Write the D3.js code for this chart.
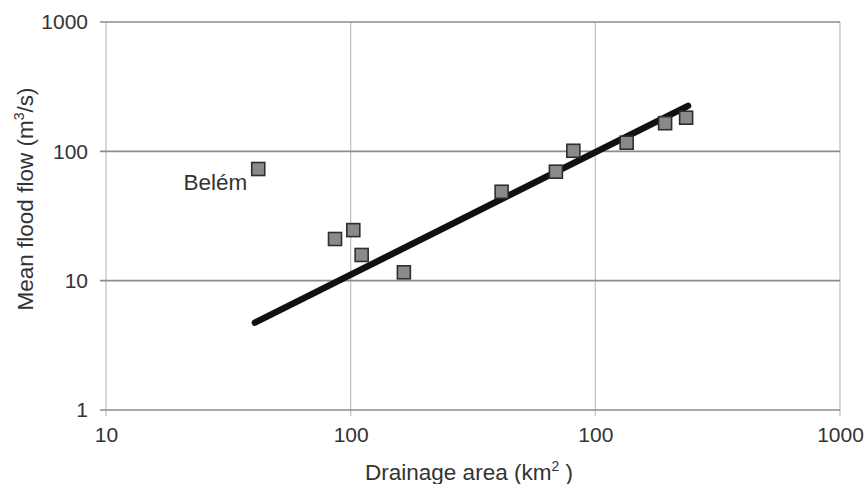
<!DOCTYPE html>
<html>
<head>
<meta charset="utf-8">
<script src="https://cdn.jsdelivr.net/npm/d3@7"></script>
<style>
  html, body { margin: 0; padding: 0; background: #fff; }
  svg { display: block; }
  text { font-family: "Liberation Sans", Arial, sans-serif; fill: #333; }
</style>
</head>
<body>
<svg id="chart" width="868" height="484"></svg>
<script>
// ---- data ----
const drainageArea = [41.9, 86.3, 102.5, 110.9, 165, 414, 690, 813, 1343, 1928, 2350];
const meanFloodFlow = [73.0, 21.0, 24.6, 15.8, 11.6, 48.7, 69.6, 101, 116.6, 165, 182];
const pointLabels = ["Belém", "", "", "", "", "", "", "", "", "", ""];
const trendArea = [40.6, 2393];
const trendFlow = [4.73, 225];
const xTickValues = [10, 100, 1000, 10000];
const xTickLabels = ["10", "100", "100", "1000"];
const yTickValues = [1, 10, 100, 1000];
const yTickLabels = ["1", "10", "100", "1000"];

const svg = d3.select("#chart");
const L = 106, R = 840, T = 22, B = 410;

const x = d3.scaleLog().domain([10, 10000]).range([L, R]);
const y = d3.scaleLog().domain([1, 1000]).range([B, T]);

// vertical gridlines (light)
svg.append("g").selectAll("line").data(xTickValues).join("line")
  .attr("x1", d => x(d)).attr("x2", d => x(d))
  .attr("y1", T).attr("y2", B + 6)
  .attr("stroke", "#c4c4c4").attr("stroke-width", 1.3);

// horizontal gridlines (darker)
svg.append("g").selectAll("line").data(yTickValues).join("line")
  .attr("x1", L - 6).attr("x2", R)
  .attr("y1", d => y(d)).attr("y2", d => y(d))
  .attr("stroke", "#8c8c8c").attr("stroke-width", 1.6);

// axes (labels only)
const xAxis = d3.axisBottom(x).tickValues(xTickValues)
  .tickFormat((d, i) => xTickLabels[i]).tickSize(0).tickPadding(17);
const gx = svg.append("g").attr("transform", `translate(0,${B})`).call(xAxis);
gx.select(".domain").remove();
gx.selectAll("text").attr("font-size", 21).attr("font-family", "Liberation Sans, Arial, sans-serif").attr("fill", "#333");

const yAxis = d3.axisLeft(y).tickValues(yTickValues)
  .tickFormat((d, i) => yTickLabels[i]).tickSize(0).tickPadding(18);
const gy = svg.append("g").attr("transform", `translate(${L},0)`).call(yAxis);
gy.select(".domain").remove();
gy.selectAll("text").attr("font-size", 21).attr("font-family", "Liberation Sans, Arial, sans-serif").attr("fill", "#333");

// trend line
const trend = trendArea.map((a, i) => [a, trendFlow[i]]);
svg.append("path")
  .datum(trend)
  .attr("d", d3.line().x(d => x(d[0])).y(d => y(d[1])))
  .attr("fill", "none").attr("stroke", "#111").attr("stroke-width", 6.5)
  .attr("stroke-linecap", "round");

// points
const pts = drainageArea.map((a, i) => ({ a, q: meanFloodFlow[i], label: pointLabels[i] }));
const s = 13;
svg.append("g").selectAll("rect").data(pts).join("rect")
  .attr("x", d => x(d.a) - s / 2).attr("y", d => y(d.q) - s / 2)
  .attr("width", s).attr("height", s)
  .attr("fill", "#8a8a8a").attr("stroke", "#2e2e2e").attr("stroke-width", 1.6);

// point labels
svg.append("g").selectAll("text").data(pts.filter(d => d.label)).join("text")
  .attr("x", d => x(d.a) - 11).attr("y", d => y(d.q) + 21)
  .attr("text-anchor", "end").attr("font-size", 22.5)
  .text(d => d.label);

// axis titles
const xt = svg.append("text").attr("x", 469).attr("y", 480)
  .attr("text-anchor", "middle").attr("font-size", 22.5);
xt.append("tspan").text("Drainage area (km");
xt.append("tspan").attr("font-size", 14).attr("dy", -9).text("2");
xt.append("tspan").attr("dy", 9).text(" )");

const yt = svg.append("text")
  .attr("transform", "translate(33,199) rotate(-90)")
  .attr("text-anchor", "middle").attr("font-size", 22.5);
yt.append("tspan").text("Mean flood flow (m");
yt.append("tspan").attr("font-size", 14).attr("dy", -9).text("3");
yt.append("tspan").attr("dy", 9).text("/s)");
</script>
</body>
</html>
